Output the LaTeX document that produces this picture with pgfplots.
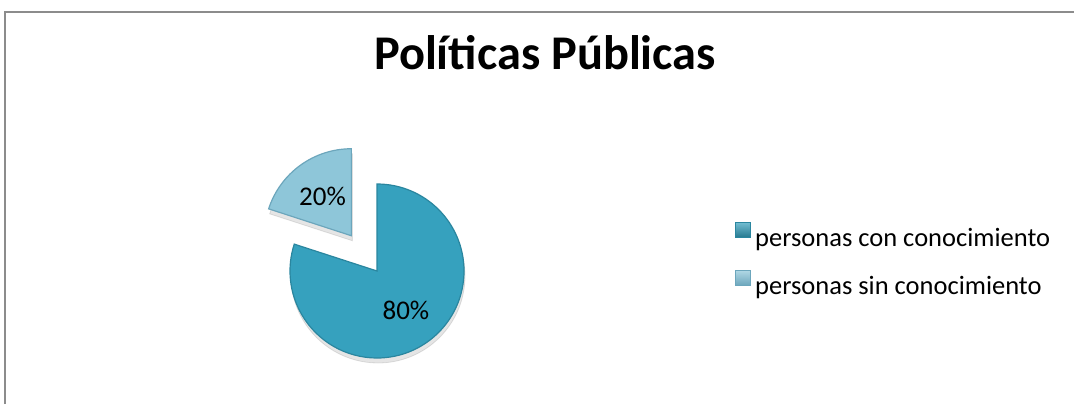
\documentclass[border=0pt]{standalone}
\usepackage{pgfplots}
\pgfplotsset{compat=1.18}
\usepackage{pgfplotstable}
\usepackage{fontspec}
\setmainfont{Carlito}

\definecolor{conFill}{HTML}{36A1BE}
\definecolor{conEdge}{HTML}{2A869F}
\definecolor{sinFill}{HTML}{8EC6D9}
\definecolor{sinEdge}{HTML}{6CA6BC}
\definecolor{frameGray}{HTML}{8C8C8C}

\pgfdeclareplotmark{nomark}{}

% pie centre in picture units (1 unit = 0.5pt), value in %, start = cumulative %,
% explode = distance the slice is pulled out (pt)
\pgfplotstableread{
x y value start explode
377 133 80 0 0
}\dataCon
\pgfplotstableread{
x y value start explode
377 133 20 80 21.8
}\dataSin

% #1 fill, #2 edge
\newcommand\pieslice[2]{%
  \pgfmathsetmacro\aA{90-3.6*\pstart}%
  \pgfmathsetmacro\aB{90-3.6*(\pstart+\pval)}%
  \pgfmathsetmacro\aM{(\aA+\aB)/2}%
  \pgfmathsetmacro\dx{\pex*cos(\aM)}%
  \pgfmathsetmacro\dy{\pex*sin(\aM)}%
  \pgfscope
  \pgftransformshift{\pgfpoint{\dx pt}{\dy pt}}%
    \fill[black,opacity=0.10] (0.5pt,-2.5pt) -- ++(\aA:43.5pt)
      arc[start angle=\aA,end angle=\aB,radius=43.5pt] -- cycle;
    \fill[#1,draw=#2,line width=0.6pt] (0,0) -- (\aA:43.5pt)
      arc[start angle=\aA,end angle=\aB,radius=43.5pt] -- cycle;
    \node[font=\fontsize{13.5}{16}\selectfont] at (\aM:24.6pt)
      {\pgfmathprintnumber[assume math mode=true]{\pval}\%};
  \endpgfscope}

\pgfplotsset{
  pie slice/.style n args={2}{
    scatter, only marks, mark=nomark, forget plot,
    visualization depends on={\thisrow{value}\as\pval},
    visualization depends on={\thisrow{start}\as\pstart},
    visualization depends on={\thisrow{explode}\as\pex},
    scatter/@pre marker code/.code={\pieslice{#1}{#2}},
    scatter/@post marker code/.code={},
  },
}

\begin{document}
\begin{tikzpicture}
\path[use as bounding box] (0,0) rectangle (537pt,202pt);
\begin{axis}[
    at={(0,0)}, anchor=south west,
    width=537pt, height=202pt, scale only axis,
    xmin=0, xmax=1074, ymin=0, ymax=404,
    hide axis, clip=false,
    legend style={at={(axis cs:735,144.5)}, anchor=west, draw=none, fill=none,
      font=\fontsize{13.25}{16}\selectfont, row sep=10.5pt, inner sep=0pt,
      nodes={inner xsep=2pt, inner ysep=0pt}},
    legend cell align=left,
  ]
\draw[frameGray,line width=1pt] (axis cs:5,0) -- (axis cs:5,392) -- (axis cs:1074,392);
\node[font=\bfseries\fontsize{24.2}{29}\selectfont,anchor=base] at (axis cs:545,335) {Políticas Públicas};

\addplot[pie slice={conFill}{conEdge}] table {\dataCon};
\addplot[pie slice={sinFill}{sinEdge}] table {\dataSin};

\addlegendimage{legend image code/.code={\fill[top color=conFill!70!white,bottom color=conEdge!90!black,draw=conEdge] (0pt,0.5pt) rectangle (7.5pt,8pt);}}
\addlegendimage{legend image code/.code={\fill[top color=sinFill!70!white,bottom color=sinEdge,draw=sinEdge] (0pt,0.5pt) rectangle (7.5pt,8pt);}}
\legend{personas con conocimiento, personas sin conocimiento}
\end{axis}
\end{tikzpicture}
\end{document}
